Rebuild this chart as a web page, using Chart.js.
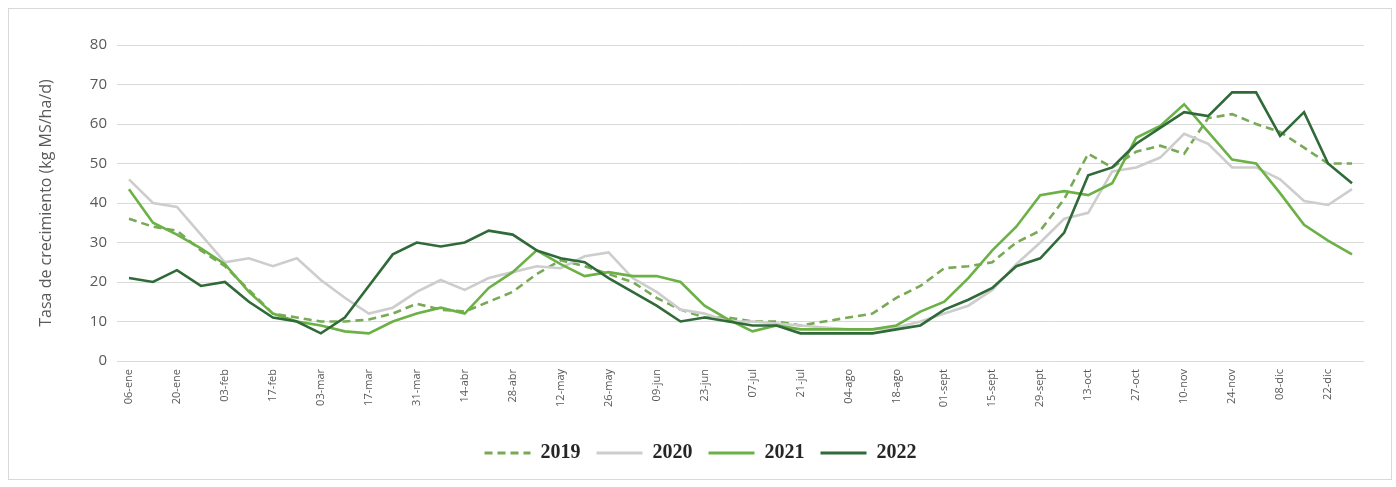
<!DOCTYPE html>
<html>
<head>
<meta charset="utf-8">
<title>Tasa de crecimiento</title>
<script src="https://cdn.jsdelivr.net/npm/chart.js@4.4.0/dist/chart.umd.min.js"></script>
<style>
  html, body { margin: 0; padding: 0; background: #fff; }
  #wrap { position: relative; width: 1396px; height: 487px; }
  #frame { position: absolute; left: 8px; top: 8px; width: 1382px; height: 470px; border: 1px solid #d9d9d9; }
  #chart { position: absolute; left: 0; top: 0; }
</style>
</head>
<body>
<div id="wrap">
  <div id="frame"></div>
  <canvas id="chart" width="1396" height="487"></canvas>
</div>
<script>
'use strict';

// semanas (una etiqueta por semana, se muestran cada dos)
const weeks = [
    '06-ene', '13-ene', '20-ene', '27-ene', '03-feb', '10-feb', '17-feb', '24-feb',
    '03-mar', '10-mar', '17-mar', '24-mar', '31-mar', '07-abr', '14-abr', '21-abr',
    '28-abr', '05-may', '12-may', '19-may', '26-may', '02-jun', '09-jun', '16-jun',
    '23-jun', '30-jun', '07-jul', '14-jul', '21-jul', '28-jul', '04-ago', '11-ago',
    '18-ago', '25-ago', '01-sept', '08-sept', '15-sept', '22-sept', '29-sept', '06-oct',
    '13-oct', '20-oct', '27-oct', '03-nov', '10-nov', '17-nov', '24-nov', '01-dic',
    '08-dic', '15-dic', '22-dic', '29-dic'
];

const yTicks = [0, 10, 20, 30, 40, 50, 60, 70, 80];

const y2019 = [36, 34, 33, 28, 24, 18, 12, 11, 10, 10, 10.5, 12, 14.5, 13, 12.5, 15, 17.5, 22, 25.5, 24,
    22, 20, 16, 13, 11, 11, 10, 10, 9, 10, 11, 12, 16, 19, 23.5, 24, 25, 30, 33, 41,
    52.5, 49, 53, 54.5, 52.5, 61.5, 62.5, 60, 58, 54, 50, 50];

const y2020 = [46, 40, 39, 32, 25, 26, 24, 26, 20.5, 16, 12, 13.5, 17.5, 20.5, 18, 21, 22.5, 24, 23.5, 26.5,
    27.5, 21, 17.5, 13, 12, 10, 10, 9.5, 9, 8.5, 8, 8, 8.5, 10, 12, 14, 18, 24.5, 30, 36,
    37.5, 48, 49, 51.5, 57.5, 55, 49, 49, 46, 40.5, 39.5, 43.5];

const y2021 = [43.5, 35, 32, 28.5, 24.5, 17.5, 12, 10, 9, 7.5, 7, 10, 12, 13.5, 12, 18.5, 22.5, 28, 24.5, 21.5,
    22.5, 21.5, 21.5, 20, 14, 10.5, 7.5, 9, 8, 8, 8, 8, 9, 12.5, 15, 21, 28, 34, 42, 43,
    42, 45, 56.5, 59.5, 65, 58, 51, 50, 42.5, 34.5, 30.5, 27];

const y2022 = [21, 20, 23, 19, 20, 15, 11, 10, 7, 11, 19, 27, 30, 29, 30, 33, 32, 28, 26, 25,
    21, 17.5, 14, 10, 11, 10, 9, 9, 7, 7, 7, 7, 8, 9, 13, 15.5, 18.5, 24, 26, 32.5,
    47, 49, 55, 59, 63, 62, 68, 68, 57, 63, 50, 45];

const seriesNames = ['2019', '2020', '2021', '2022'];
const seriesColors = ['#77a956', '#cdcdcd', '#6cb146', '#2f6a38'];

const gridColor = '#d9d9d9';
const textColor = '#595959';

function makeDataset(i, values, dash, order) {
    return {
        label: seriesNames[i],
        data: values,
        borderColor: seriesColors[i],
        backgroundColor: seriesColors[i],
        borderWidth: 2.6,
        borderDash: dash,
        pointRadius: 0,
        tension: 0,
        order: order
    };
}

function legendLabels(chart) {
    return chart.data.datasets.map(function (ds, i) {
        return {
            text: ds.label,
            pointStyle: 'line',
            fillStyle: 'rgba(0,0,0,0)',
            strokeStyle: ds.borderColor,
            lineWidth: 3,
            lineDash: ds.borderDash || [],
            fontColor: '#262626',
            datasetIndex: i
        };
    });
}

new Chart(document.getElementById('chart'), {
    type: 'line',
    data: {
        labels: weeks,
        datasets: [
            makeDataset(0, y2019, [8, 5], 4),
            makeDataset(1, y2020, [], 3),
            makeDataset(2, y2021, [], 2),
            makeDataset(3, y2022, [], 1)
        ]
    },
    options: {
        responsive: false,
        animation: false,
        layout: { padding: { left: 37, right: 32, top: 45, bottom: 14 } },
        plugins: {
            tooltip: { enabled: false },
            legend: {
                position: 'bottom',
                labels: {
                    generateLabels: legendLabels,
                    usePointStyle: true,
                    pointStyleWidth: 46,
                    boxHeight: 12,
                    padding: 16,
                    color: '#262626',
                    font: { family: '"Liberation Serif", serif', size: 20, weight: 'bold' }
                }
            }
        },
        scales: {
            x: {
                offset: true,
                grid: { display: false },
                border: { display: false },
                afterFit: function (scale) { scale.height = 66; },
                ticks: {
                    autoSkip: false,
                    maxRotation: 90,
                    minRotation: 90,
                    padding: 0,
                    color: textColor,
                    font: { family: '"Open Sans", sans-serif', size: 11 },
                    callback: function (value, index) {
                        return index % 2 === 0 ? weeks[index] : '';
                    }
                }
            },
            y: {
                min: 0,
                max: 80,
                afterBuildTicks: function (scale) {
                    scale.ticks = yTicks.map(function (v) { return { value: v }; });
                },
                afterFit: function (scale) { scale.width = 80; },
                grid: { color: gridColor, lineWidth: 1, drawTicks: false },
                border: { display: false },
                ticks: {
                    padding: 10,
                    color: textColor,
                    font: { family: '"Open Sans", sans-serif', size: 15 }
                },
                title: {
                    display: true,
                    text: 'Tasa de crecimiento (kg MS/ha/d)',
                    color: textColor,
                    padding: { top: 0, bottom: 0 },
                    font: { family: '"Open Sans", sans-serif', size: 16 }
                }
            }
        }
    }
});
</script>
</body>
</html>
